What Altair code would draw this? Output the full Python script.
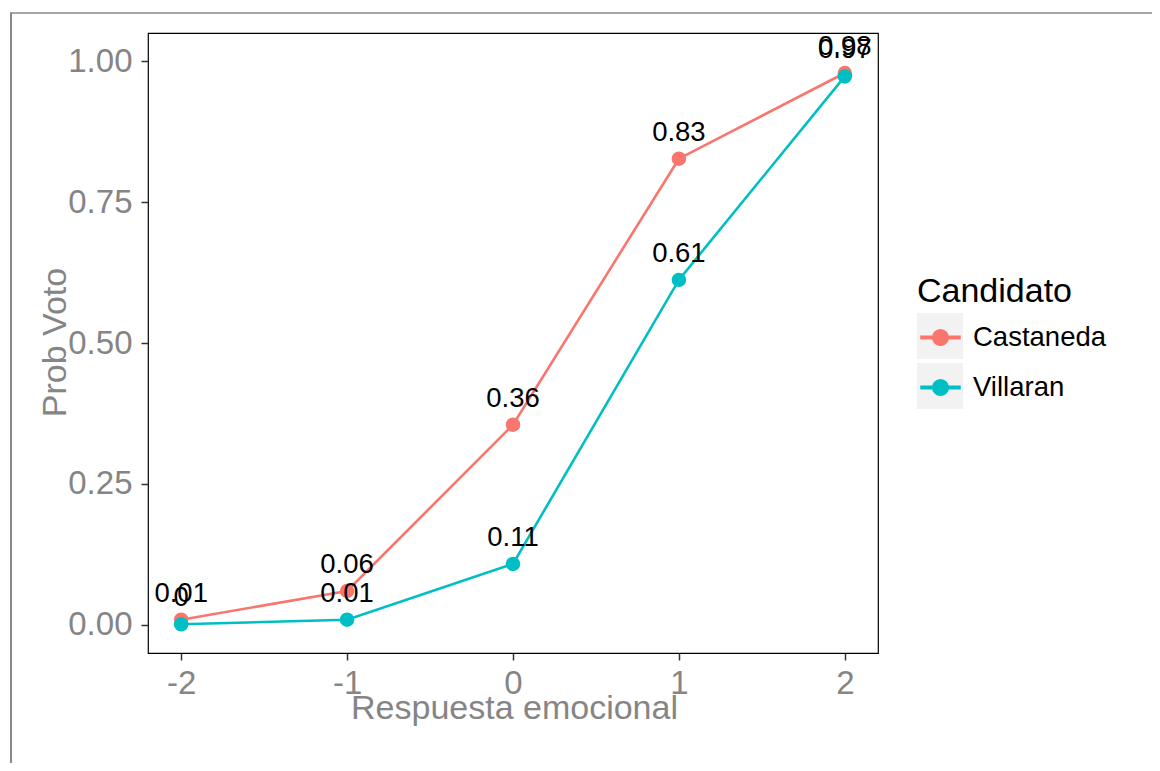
import altair as alt
import pandas as pd

# ---- data ----
respuesta = [-2, -1, 0, 1, 2]
castaneda = [0.009, 0.060, 0.355, 0.827, 0.979]
villaran = [0.001, 0.009, 0.108, 0.612, 0.973]
castaneda_lbl = ["0.01", "0.06", "0.36", "0.83", "0.98"]
villaran_lbl = ["0", "0.01", "0.11", "0.61", "0.97"]
candidatos = ["Castaneda", "Villaran"]
colores = ["#F8766D", "#00BFC4"]
y_ticks = [0, 0.25, 0.5, 0.75, 1.0]
x_ticks = [-2, -1, 0, 1, 2]

rows = []
for cand, vals, lbls in [(candidatos[0], castaneda, castaneda_lbl),
                         (candidatos[1], villaran, villaran_lbl)]:
    for x, v, l in zip(respuesta, vals, lbls):
        rows.append({"Respuesta": x, "Prob": v, "Candidato": cand, "label": l})
df = pd.DataFrame(rows)

FONT = "Liberation Sans"
GRAY = "#858585"
W, H = 730, 620

xscale = alt.Scale(domain=[-2.2, 2.2], nice=False, zero=False)
yscale = alt.Scale(domain=[-0.05, 1.05], nice=False, zero=False)
cscale = alt.Scale(domain=candidatos, range=colores)

# legend symbol: a short line with a dot in the middle (all filled shapes)
sym_path = ("M-1,-0.065H1V0.065H-1Z"
            "M0.4,0A0.4,0.4 0 1,1 -0.4,0A0.4,0.4 0 1,1 0.4,0Z")

legend = alt.Legend(
    title="Candidato",
    orient="none",
    legendX=769,
    legendY=242,
    titleFont=FONT,
    titleFontSize=34,
    titleFontWeight="normal",
    titleColor="black",
    titlePadding=8,
    labelFont=FONT,
    labelFontSize=27.5,
    labelColor="black",
    labelOffset=12,
    rowPadding=16,
    symbolType=sym_path,
    symbolSize=1521,
    symbolOffset=3,
    symbolOpacity=1,
)

x_enc = alt.X(
    "Respuesta:Q",
    scale=xscale,
    axis=alt.Axis(
        values=x_ticks,
        labelExpr="'' + datum.value",
        title="Respuesta emocional",
        titleX=366,
        titleY=65,
        titleBaseline="alphabetic",
        titleAlign="center",
        titleAnchor="middle",
        labelPadding=7,
    ),
)
y_enc = alt.Y(
    "Prob:Q",
    scale=yscale,
    axis=alt.Axis(
        values=y_ticks,
        format=".2f",
        title="Prob Voto",
        titleX=-83,
        titleY=309,
        titleAngle=-90,
        titleBaseline="alphabetic",
        titleAlign="center",
        titleAnchor="middle",
        labelPadding=9,
    ),
)

base = alt.Chart(df)

color_enc = alt.Color("Candidato:N", scale=cscale, legend=legend)

lines = base.mark_line(strokeWidth=2.6).encode(
    x=x_enc, y=y_enc, color=color_enc,
)
points = base.mark_point(filled=True, size=210, opacity=1).encode(
    x=x_enc, y=y_enc, color=color_enc,
    order=alt.Order("Candidato:N"),
)
labels = base.mark_text(
    dy=-18, baseline="alphabetic", align="center",
    font=FONT, fontSize=27.5, color="black",
).encode(x=x_enc, y=y_enc, text="label:N")

one = alt.Data(values=[{"k": 1}])
key_bg1 = alt.Chart(one).mark_rect(color="#F2F2F2").encode(
    x=alt.value(769), x2=alt.value(815), y=alt.value(280), y2=alt.value(326))
key_bg2 = alt.Chart(one).mark_rect(color="#F2F2F2").encode(
    x=alt.value(769), x2=alt.value(815), y=alt.value(330), y2=alt.value(376))
frame_left = alt.Chart(one).mark_rule(color="#888888", strokeWidth=2).encode(
    x=alt.value(-137), y=alt.value(-20), y2=alt.value(740))
frame_top = alt.Chart(one).mark_rule(color="#888888", strokeWidth=1.5).encode(
    x=alt.value(-138), x2=alt.value(1020), y=alt.value(-20))

chart = alt.layer(
    key_bg1, key_bg2, frame_left, frame_top, lines, points, labels
).properties(
    width=W, height=H,
    autosize=alt.AutoSizeParams(type="none"),
    padding={"left": 140, "top": 25, "right": 274, "bottom": 110},
    background="white",
).configure_view(
    stroke="black", strokeWidth=1.2,
).configure_axis(
    grid=False,
    domain=False,
    tickColor="#333333",
    tickWidth=1.5,
    tickSize=7,
    labelFont=FONT,
    labelFontSize=33,
    labelColor=GRAY,
    titleFont=FONT,
    titleFontSize=34,
    titleFontWeight="normal",
    titleColor=GRAY,
)

chart.save("out.html", embed_options={"renderer": "svg", "actions": False})
